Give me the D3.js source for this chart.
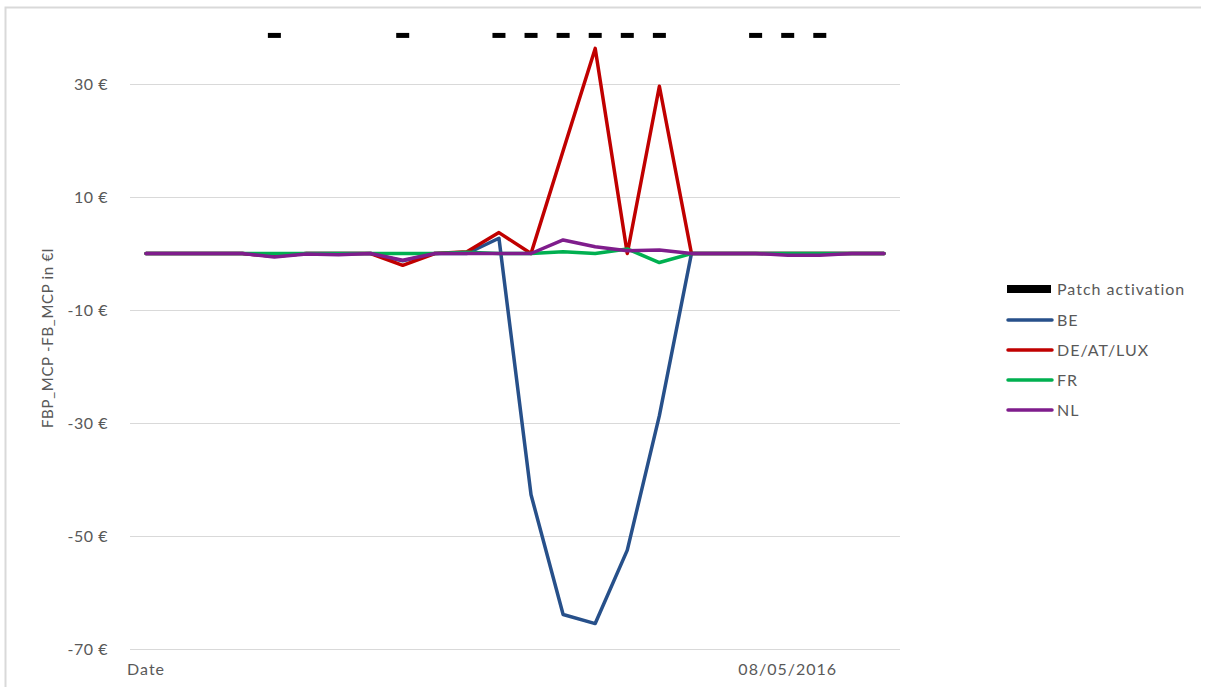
<!DOCTYPE html>
<html>
<head>
<meta charset="utf-8">
<script src="https://cdn.jsdelivr.net/npm/d3@7"></script>
<style>
  html, body { margin: 0; padding: 0; background: #fff; }
  svg { display: block; }
  text { font-family: Lato, "Open Sans", sans-serif; }
</style>
</head>
<body>
<svg id="chart" width="1206" height="687"></svg>
<script>
// ---- data ----
const categories = d3.range(24);
const xLabels = ["Date","","","","","","","","","","","","","","","","","","","","08/05/2016","","",""];
const yTicks = [30, 10, -10, -30, -50, -70];
const BE  = [0,0,0,0,-0.5,0,0,0,-1.3,0,0,2.7,-42.7,-63.9,-65.5,-52.5,-28.7,0,0,0,0,0,0,0];
const DE  = [0,0,0,0,-0.5,0,0,0,-2.1,0,0.3,3.7,0,18.2,36.3,0,29.6,0,0,0,0,0,0,0];
const FR  = [0,0,0,0,0,0,0,0,0,0,0.2,0,0,0.3,0,0.8,-1.6,0,0,0,0,0,0,0];
const NL  = [0,0,0,0,-0.6,-0.1,-0.2,0,-1.2,0,0,0,0,2.4,1.2,0.5,0.6,0,0,0,-0.3,-0.3,0,0];
const patch = [null,null,null,null,38.6,null,null,null,38.6,null,null,38.6,38.6,38.6,38.6,38.6,38.6,null,null,38.6,38.6,38.6,null,null];
const seriesNames = ["BE","DE/AT/LUX","FR","NL"];
const seriesColors = ["#27508A","#C00000","#00B050","#7F1D8C"];
const seriesData = [BE, DE, FR, NL];

// ---- layout ----
const svg = d3.select("#chart");
const plot = {left: 130, right: 900, top: 27.5, bottom: 649};
const grey = "#595959";

// frame
svg.append("path").attr("d", "M5.5,687 L5.5,7.5 L1201,7.5")
  .attr("fill","none").attr("stroke","#d9d9d9").attr("stroke-width",2);

const x = d3.scaleBand().domain(categories).range([plot.left, plot.right]);
const cx = i => x(i) + x.bandwidth()/2;
const y = d3.scaleLinear().domain([-70, 40]).range([plot.bottom, plot.top]);

// gridlines
svg.append("g").selectAll("line").data(yTicks).join("line")
  .attr("x1", plot.left).attr("x2", plot.right)
  .attr("y1", d => Math.round(y(d)) + 0.5).attr("y2", d => Math.round(y(d)) + 0.5)
  .attr("stroke", "#d9d9d9").attr("stroke-width", 1);

// y axis labels
const yAxis = d3.axisLeft(y).tickValues(yTicks).tickSize(0).tickPadding(0)
  .tickFormat(d => d + " €");
const gy = svg.append("g").attr("transform", "translate(108,0)").call(yAxis);
gy.select(".domain").remove();
gy.selectAll("text").attr("fill", grey).style("font-size", "16px")
  .style("letter-spacing", "0.5px").style("font-family", "Lato, sans-serif");

// x axis labels
const xAxis = d3.axisBottom(x).tickSize(0).tickPadding(0).tickFormat(i => xLabels[i]);
const gx = svg.append("g").attr("transform", "translate(0,664)").call(xAxis);
gx.select(".domain").remove();
gx.selectAll("text").attr("fill", grey).style("font-size", "16px")
  .style("letter-spacing", "1px").style("font-family", "Lato, sans-serif");

// y axis title
svg.append("text")
  .attr("transform", "translate(53,338) rotate(-90)")
  .attr("text-anchor", "middle")
  .attr("fill", grey).style("font-size", "15px").style("letter-spacing", "0.7px")
  .text("FBP_MCP -FB_MCP in €l");

// lines
const line = d3.line().x((d, i) => cx(i)).y(d => y(d));
seriesData.forEach((s, k) => {
  svg.append("path").datum(s)
    .attr("d", line)
    .attr("fill", "none")
    .attr("stroke", seriesColors[k])
    .attr("stroke-width", 3.5)
    .attr("stroke-linejoin", "round")
    .attr("stroke-linecap", "round");
});

// patch activation markers
svg.append("g").selectAll("rect")
  .data(patch.map((v, i) => ({v, i})).filter(d => d.v !== null))
  .join("rect")
  .attr("x", d => cx(d.i) - 6.5)
  .attr("y", d => y(d.v) - 2.5)
  .attr("width", 13).attr("height", 5)
  .attr("fill", "#000");

// legend
const lg = svg.append("g");
lg.append("rect").attr("x", 1007).attr("y", 285).attr("width", 44).attr("height", 8).attr("fill", "#000");
lg.append("text").attr("x", 1057).attr("y", 289).attr("dy", "0.35em")
  .attr("fill", grey).style("font-size", "16px").style("letter-spacing", "1px").text("Patch activation");
seriesNames.forEach((n, k) => {
  const yy = 320 + k * 30;
  lg.append("line").attr("x1", 1008).attr("x2", 1052).attr("y1", yy).attr("y2", yy)
    .attr("stroke", seriesColors[k]).attr("stroke-width", 3.5).attr("stroke-linecap", "round");
  lg.append("text").attr("x", 1057).attr("y", yy).attr("dy", "0.35em")
    .attr("fill", grey).style("font-size", "16px").style("letter-spacing", "1px").text(n);
});
</script>
</body>
</html>
